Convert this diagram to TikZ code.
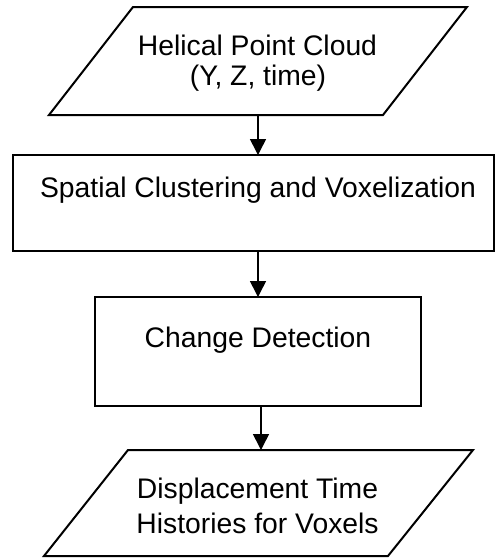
\documentclass[tikz,border=0pt]{standalone}
\usepackage{fontspec}
\setmainfont{Liberation Sans}
\usetikzlibrary{arrows.meta}
\begin{document}
\begin{tikzpicture}[x=1pt,y=-1pt,
  outline/.style={draw=black,line width=2pt,line join=miter},
  lbl/.style={anchor=base,inner sep=0pt,font=\fontsize{28.3}{30}\selectfont},
  flow/.style={draw=black,line width=1.6pt,-{Triangle[length=16pt,width=16pt]}}]
\useasboundingbox (0,0) rectangle (496,558);
% input parallelogram
\draw[outline] (133,7) -- (467,7) -- (383,115) -- (49,115) -- cycle;
\node[lbl] (t1a) at (257.5,55) {Helical Point Cloud};
\node[lbl] (t1b) at (258,85) {(Y, Z, time)};
\coordinate (inS) at (258,115);
% clustering box
\draw[outline] (13,155) rectangle (494,251);
\node[lbl] (t2) at (258,197) {Spatial Clustering and Voxelization};
\coordinate (b2N) at (258,155);
\coordinate (b2S) at (258,251);
% change detection box
\draw[outline] (95,297) rectangle (421,406);
\node[lbl] (t3) at (258,347) {Change Detection};
\coordinate (b3N) at (258,297);
\coordinate (b3S) at (261,406);
% output parallelogram
\draw[outline] (128,450) -- (473,450) -- (388,556) -- (44,556) -- cycle;
\node[lbl] (t4a) at (257.5,498) {Displacement Time};
\node[lbl] (t4b) at (257.5,533) {Histories for Voxels};
\coordinate (outN) at (261,450);
% connectors
\draw[flow] (inS) -- (b2N);
\draw[flow] (b2S) -- (b3N);
\draw[flow] (b3S) -- (outN);
\end{tikzpicture}
\end{document}
